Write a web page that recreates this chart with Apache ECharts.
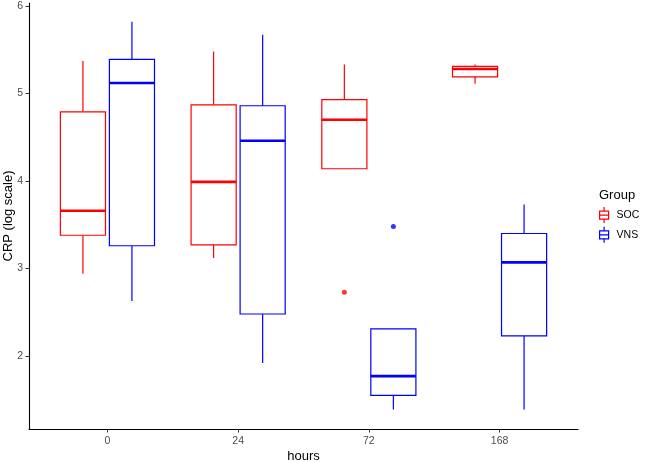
<!DOCTYPE html>
<html>
<head>
<meta charset="utf-8">
<title>CRP by hours</title>
<script src="https://cdn.jsdelivr.net/npm/echarts@6/dist/echarts.min.js"></script>
<style>
  html, body { margin: 0; padding: 0; background: #fff; }
  #chart { width: 650px; height: 462px; }
</style>
</head>
<body>
<div id="chart"></div>
<script>
// x categories (hours) and legend groups
var hourLabels = ['0', '24', '72', '168'];
var groupNames = ['SOC', 'VNS'];

// box stats per hour: [hourIndex, min, q1, median, q3, max]  (CRP, log scale)
var socBoxes = [
    [0, 2.94, 3.38, 3.66, 4.79, 5.37],
    [1, 3.12, 3.27, 3.99, 4.87, 5.48],
    [2, 4.14, 4.14, 4.70, 4.93, 5.33],
    [3, 5.11, 5.19, 5.28, 5.31, 5.33]
];
var vnsBoxes = [
    [0, 2.63, 3.26, 5.12, 5.39, 5.82],
    [1, 1.92, 2.48, 4.46, 4.86, 5.67],
    [2, 1.39, 1.55, 1.77, 2.31, 2.31],
    [3, 1.39, 2.23, 3.07, 3.40, 3.73]
];

// outliers: [hourIndex, value]
var socOutliers = [[2, 2.73]];
var vnsOutliers = [[2, 3.48]];

var yTicks = [2, 3, 4, 5, 6];

var RED = '#ff0000';
var BLUE = '#0000ff';
var BOX_WIDTH = 0.345;   // in category units
var DODGE = 0.1875;      // half dodge distance
var FONT = '"Liberation Sans", Arial, sans-serif';

// ggplot-like box: no whisker caps, thick median
function boxRenderer(offset, color) {
    return function (params, api) {
        var x = api.value(0) + offset;
        var pMin = api.coord([x, api.value(1)]);
        var pQ1 = api.coord([x, api.value(2)]);
        var pMed = api.coord([x, api.value(3)]);
        var pQ3 = api.coord([x, api.value(4)]);
        var pMax = api.coord([x, api.value(5)]);
        var half = api.size([BOX_WIDTH, 0])[0] / 2;
        var lineStyle = { stroke: color, lineWidth: 1.2, fill: null };
        return {
            type: 'group',
            children: [
                { type: 'line', shape: { x1: pMax[0], y1: pMax[1], x2: pQ3[0], y2: pQ3[1] }, style: lineStyle },
                { type: 'line', shape: { x1: pQ1[0], y1: pQ1[1], x2: pMin[0], y2: pMin[1] }, style: lineStyle },
                {
                    type: 'rect',
                    shape: { x: pQ3[0] - half, y: pQ3[1], width: half * 2, height: pQ1[1] - pQ3[1] },
                    style: { fill: '#fff', stroke: color, lineWidth: 1.2 }
                },
                {
                    type: 'line',
                    shape: { x1: pMed[0] - half, y1: pMed[1], x2: pMed[0] + half, y2: pMed[1] },
                    style: { stroke: color, lineWidth: 2.6 }
                }
            ]
        };
    };
}

function shift(points, offset) {
    return points.map(function (p) { return [p[0] + offset, p[1]]; });
}

var boxIcon = 'path://M5,0V4M0,4H10V12H0ZM0,8H10M5,12V16';

var myChart = echarts.init(document.getElementById('chart'));
var option = {
    animation: false,
    backgroundColor: '#fff',
    title: {
        text: 'Group',
        left: 599,
        top: 189,
        padding: 0,
        textStyle: { fontFamily: FONT, fontSize: 13, fontWeight: 'normal', color: '#000' }
    },
    legend: {
        orient: 'vertical',
        left: 599,
        top: 206.5,
        padding: 0,
        itemWidth: 9,
        itemHeight: 16,
        itemGap: 2.5,
        symbolKeepAspect: false,
        textStyle: { fontFamily: FONT, fontSize: 10.5, color: '#000', padding: [0, 0, 0, 3] },
        data: [
            { name: groupNames[0], icon: boxIcon, itemStyle: { color: '#fff', borderColor: RED, borderWidth: 1.2 } },
            { name: groupNames[1], icon: boxIcon, itemStyle: { color: '#fff', borderColor: BLUE, borderWidth: 1.2 } }
        ]
    },
    grid: { left: 29, right: 72, top: 3, bottom: 33, outerBoundsMode: 'none' },
    xAxis: {
        type: 'value',
        min: -0.6,
        max: 3.6,
        name: 'hours',
        nameLocation: 'middle',
        nameGap: 21,
        nameMoveOverlap: false,
        nameTextStyle: { fontFamily: FONT, fontSize: 13, color: '#000' },
        axisLine: { show: true, onZero: false, lineStyle: { color: '#000', width: 1.1 } },
        axisTick: { show: true, length: 3.5, lineStyle: { color: '#333' }, customValues: [0, 1, 2, 3] },
        axisLabel: {
            customValues: [0, 1, 2, 3],
            margin: 7,
            fontFamily: FONT,
            fontSize: 10.5,
            color: '#4d4d4d',
            formatter: function (v) { return hourLabels[Math.round(v)]; }
        },
        splitLine: { show: false }
    },
    yAxis: {
        type: 'value',
        min: 1.166,
        max: 6.034,
        name: 'CRP (log scale)',
        nameLocation: 'middle',
        nameGap: 14,
        nameMoveOverlap: false,
        nameTextStyle: { fontFamily: FONT, fontSize: 13, color: '#000' },
        axisLine: { show: true, onZero: false, lineStyle: { color: '#000', width: 1.1 } },
        axisTick: { show: true, length: 3.5, lineStyle: { color: '#333' }, customValues: yTicks },
        axisLabel: {
            customValues: yTicks,
            margin: 6,
            fontFamily: FONT,
            fontSize: 10.5,
            color: '#4d4d4d'
        },
        splitLine: { show: false }
    },
    series: [
        {
            name: groupNames[0],
            type: 'custom',
            color: RED,
            renderItem: boxRenderer(-DODGE, RED),
            encode: { x: 0, y: [1, 2, 3, 4, 5] },
            data: socBoxes
        },
        {
            name: groupNames[1],
            type: 'custom',
            color: BLUE,
            renderItem: boxRenderer(DODGE, BLUE),
            encode: { x: 0, y: [1, 2, 3, 4, 5] },
            data: vnsBoxes
        },
        {
            name: groupNames[0],
            type: 'scatter',
            symbolSize: 5,
            itemStyle: { color: RED },
            data: shift(socOutliers, -DODGE)
        },
        {
            name: groupNames[1],
            type: 'scatter',
            symbolSize: 5,
            itemStyle: { color: BLUE },
            data: shift(vnsOutliers, DODGE)
        }
    ]
};
myChart.setOption(option);
</script>
</body>
</html>
